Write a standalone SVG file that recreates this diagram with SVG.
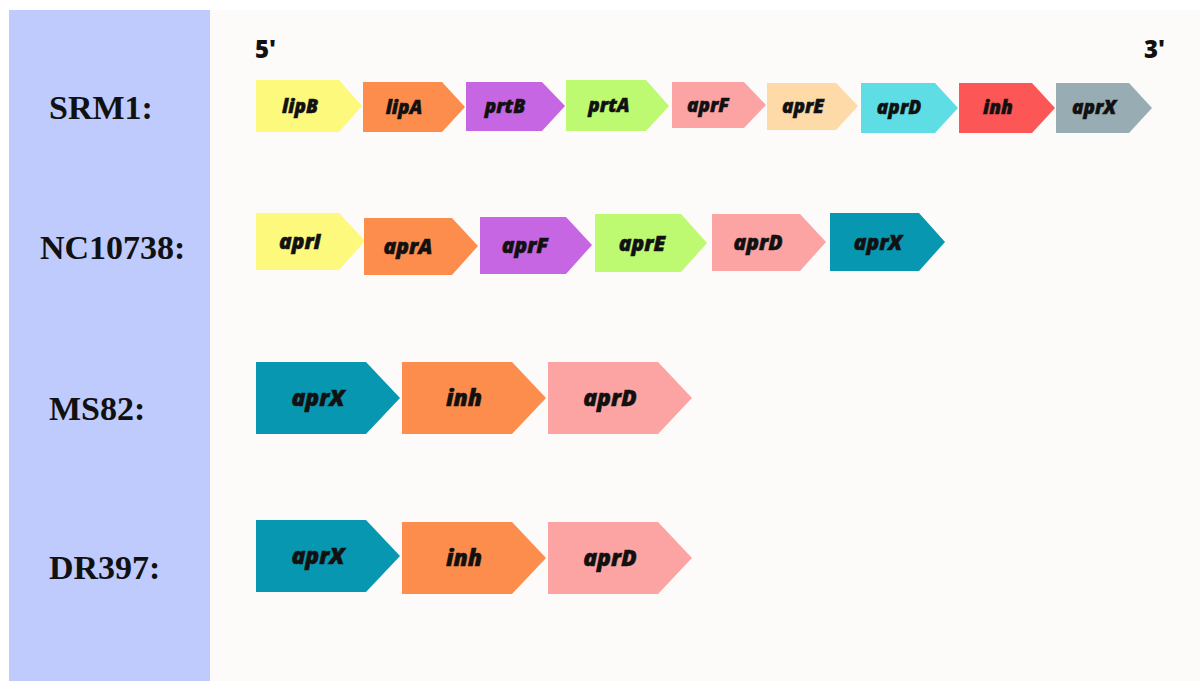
<svg xmlns="http://www.w3.org/2000/svg" width="1200" height="681" viewBox="0 0 1200 681">
  <style>
    .strain { font-family: "Liberation Serif", "Times New Roman", serif; font-weight: bold; font-size: 34px; fill: #111; }
    .end { font-family: "Open Sans", "Liberation Sans", sans-serif; font-weight: 800; font-size: 24px; fill: #111; }
    .gene { font-family: "Open Sans", "Liberation Sans", sans-serif; font-weight: 800; font-style: italic; fill: #111; stroke: #111; stroke-width: 0.5; text-anchor: middle; }
    .s { font-size: 19px; }
    .m { font-size: 21px; }
    .l { font-size: 23px; }
    .yellow { fill: #fcf97d; }
    .orange { fill: #fd8d4c; }
    .purple { fill: #c766e2; }
    .lime { fill: #bdf971; }
    .pink { fill: #fca4a4; }
    .peach { fill: #fddaa8; }
    .cyan { fill: #5fdde4; }
    .red { fill: #fc5656; }
    .slate { fill: #98adb3; }
    .teal { fill: #0897b0; }
  </style>

  <!-- page background -->
  <rect x="0" y="0" width="1200" height="681" fill="#ffffff"/>
  <rect x="9" y="10" width="1191" height="671" fill="#fcfbf9"/>
  <!-- strain label column -->
  <rect x="9" y="10" width="201" height="671" fill="#bfcafd"/>

  <!-- strand orientation -->
  <text class="end" x="255" y="58">5'</text>
  <text class="end" x="1144" y="58">3'</text>

  <!-- strain names -->
  <text class="strain" x="49" y="119">SRM1:</text>
  <text class="strain" x="40" y="259">NC10738:</text>
  <text class="strain" x="49" y="420">MS82:</text>
  <text class="strain" x="49" y="579">DR397:</text>

  <!-- SRM1 operon -->
  <g id="srm1">
    <g id="srm1-lipB"><polygon class="yellow" points="256,80 339,80 362,106 339,132 256,132"/><text class="gene s" x="300" y="113">lipB</text></g>
    <g id="srm1-lipA"><polygon class="orange" points="363,82 442,82 465,107 442,132 363,132"/><text class="gene s" x="404" y="114">lipA</text></g>
    <g id="srm1-prtB"><polygon class="purple" points="466,82 542,82 565,106 542,131 466,131"/><text class="gene s" x="505" y="113">prtB</text></g>
    <g id="srm1-prtA"><polygon class="lime" points="566,80 646,80 669,106 646,131 566,131"/><text class="gene s" x="609" y="112">prtA</text></g>
    <g id="srm1-aprF"><polygon class="pink" points="672,82 744,82 766,105 744,128 672,128"/><text class="gene s" x="708" y="112">aprF</text></g>
    <g id="srm1-aprE"><polygon class="peach" points="767,83 836,83 858,106 836,130 767,130"/><text class="gene s" x="803" y="113">aprE</text></g>
    <g id="srm1-aprD"><polygon class="cyan" points="861,83 935,83 958,108 935,133 861,133"/><text class="gene s" x="899" y="114">aprD</text></g>
    <g id="srm1-inh"><polygon class="red" points="959,83 1032,83 1055,108 1032,133 959,133"/><text class="gene s" x="998" y="114">inh</text></g>
    <g id="srm1-aprX"><polygon class="slate" points="1056,83 1129,83 1152,108 1129,133 1056,133"/><text class="gene s" x="1094" y="114">aprX</text></g>
  </g>

  <!-- NC10738 operon -->
  <g id="nc10738">
    <g id="nc-aprI"><polygon class="yellow" points="256,213 339,213 365,241 339,270 256,270"/><text class="gene m" x="300" y="249">aprI</text></g>
    <g id="nc-aprA"><polygon class="orange" points="364,218 452,218 478,246 452,275 364,275"/><text class="gene m" x="408" y="254">aprA</text></g>
    <g id="nc-aprF"><polygon class="purple" points="480,217 566,217 592,245 566,274 480,274"/><text class="gene m" x="525" y="253">aprF</text></g>
    <g id="nc-aprE"><polygon class="lime" points="595,214 681,214 707,243 681,272 595,272"/><text class="gene m" x="642" y="251">aprE</text></g>
    <g id="nc-aprD"><polygon class="pink" points="712,214 800,214 826,242 800,271 712,271"/><text class="gene m" x="758" y="250">aprD</text></g>
    <g id="nc-aprX"><polygon class="teal" points="830,213 919,213 945,242 919,271 830,271"/><text class="gene m" x="878" y="250">aprX</text></g>
  </g>

  <!-- MS82 operon -->
  <g id="ms82">
    <g id="ms82-aprX"><polygon class="teal" points="256,362 366,362 400,398 366,434 256,434"/><text class="gene l" x="318" y="406">aprX</text></g>
    <g id="ms82-inh"><polygon class="orange" points="402,362 512,362 546,398 512,434 402,434"/><text class="gene l" x="464" y="406">inh</text></g>
    <g id="ms82-aprD"><polygon class="pink" points="548,362 658,362 692,398 658,434 548,434"/><text class="gene l" x="610" y="406">aprD</text></g>
  </g>

  <!-- DR397 operon -->
  <g id="dr397">
    <g id="dr397-aprX"><polygon class="teal" points="256,520 366,520 400,556 366,592 256,592"/><text class="gene l" x="318" y="564">aprX</text></g>
    <g id="dr397-inh"><polygon class="orange" points="402,522 512,522 546,558 512,594 402,594"/><text class="gene l" x="464" y="566">inh</text></g>
    <g id="dr397-aprD"><polygon class="pink" points="548,522 658,522 692,558 658,594 548,594"/><text class="gene l" x="610" y="566">aprD</text></g>
  </g>
</svg>
